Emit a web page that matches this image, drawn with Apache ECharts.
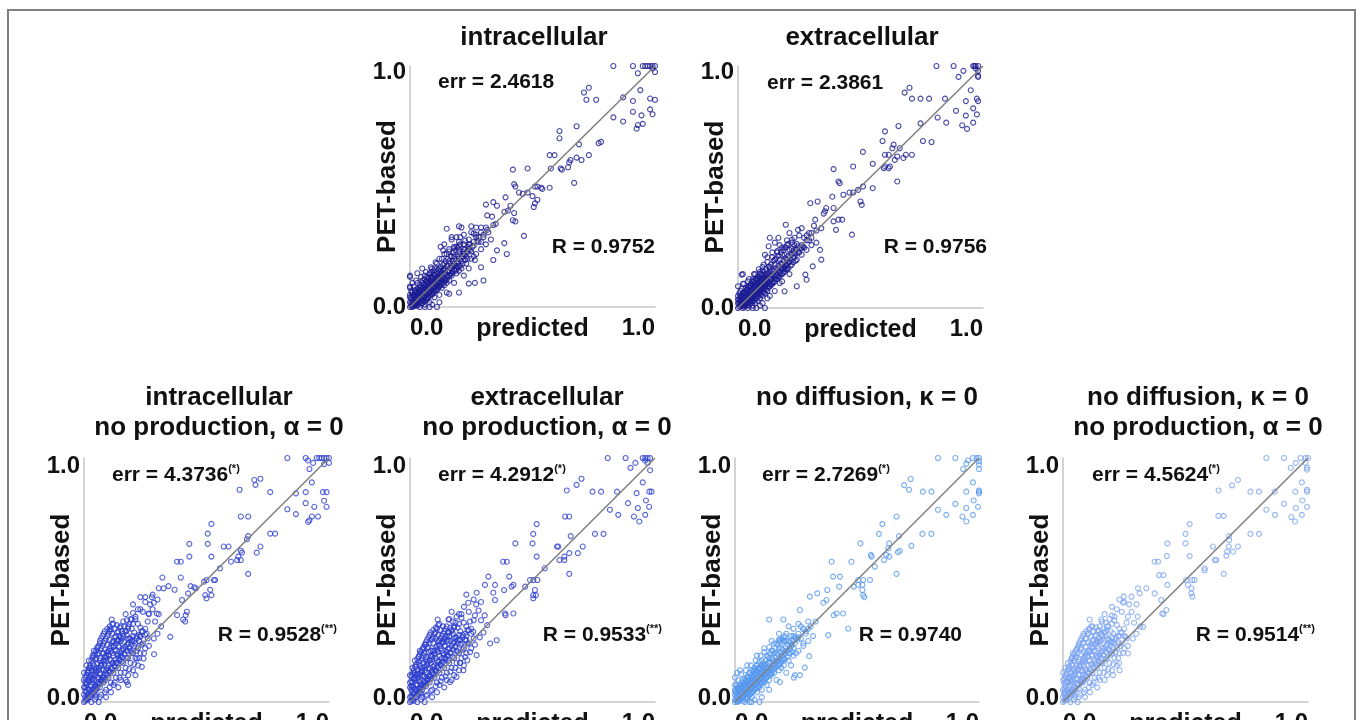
<!DOCTYPE html>
<html>
<head>
<meta charset="utf-8">
<script src="https://cdn.jsdelivr.net/npm/echarts@6/dist/echarts.min.js"></script>
<style>
  html, body { margin: 0; padding: 0; background: #fff; }
  #chart { width: 1360px; height: 720px; }
</style>
</head>
<body>
<div id="chart"></div>
<script>
// Panel titles and the statistics printed inside each panel
const TITLES = [
  'intracellular',
  'extracellular',
  'intracellular\nno production, α = 0',
  'extracellular\nno production, α = 0',
  'no diffusion, κ = 0',
  'no diffusion, κ = 0\nno production, α = 0'
];
const ERR_VALUES = ['2.4618', '2.3861', '4.3736', '4.2912', '2.7269', '4.5624'];
const ERR_MARKS = ['', '', '(*)', '(*)', '(*)', '(*)'];
const R_VALUES = ['0.9752', '0.9756', '0.9528', '0.9533', '0.9740', '0.9514'];
const R_MARKS = ['', '', '(**)', '(**)', '', '(**)'];
const X_NAME = 'predicted';
const Y_NAME = 'PET-based';
const AXIS_TICKS = [0, 1];

// Identity line
const DIAGONAL = [[0, 0], [1, 1]];

// [predicted, PET-based] pairs, normalised
const INTRA = [
  [.83,1],[.91,1],[.95,1],[.96,1],[.97,1],[.98,1],[.99,1],[1,1],[.93,.97],[1,.975],[.99,.99],
  [.73,.91],[.94,.9],[.71,.89],[.87,.87],[.72,.86],[.76,.86],[.98,.865],[1,.86],[.91,.855],
  [.98,.82],[.91,.81],[.99,.8],[.945,.795],[.83,.787],[.87,.77],[.95,.76],[.93,.755],[.925,.74],
  [.68,.75],[.61,.73],[.61,.7],[.78,.685],[.77,.68],[.69,.675],
  [.57,.63],[.59,.63],[.73,.63],[.68,.62],[.655,.61],[.7,.61],[.65,.6],[.645,.58],[.48,.575],[.575,.575],[.615,.575],[.42,.57],[.62,.57],
  [.67,.515],[.425,.51],[.43,.5],[.57,.495],[.535,.495],[.54,.49],[.51,.5],[.52,.5],[.48,.475],[.445,.475],[.46,.47],[.5,.46],[.39,.455],
  [.52,.445],[.34,.435],[.51,.43],[.31,.425],[.355,.42],[.41,.42],[.505,.415],[.4,.4],[.385,.395],[.425,.39],[.315,.38],[.335,.375],
  [.42,.36],[.43,.355],[.35,.345],[.2,.335],[.25,.335],[.29,.33],[.15,.325],[.315,.32],[.26,.305],[.465,.295],[.17,.29],[.205,.29],
  [.225,.275],[.275,.275],[.385,.265],[.125,.25],[.19,.25],[.355,.235],[.135,.235],[.395,.22],[.22,.22],[.265,.195],[.34,.195],
  [.29,.165],[0,.125],[.3,.11],[.265,.1],[.24,.097],[.2,.06],[.16,.055],[.11,0],[.08,0],[0,.085],
  [0,0],[.01,0],[.02,.01],[0,.02],[.01,.02],[.03,.01],[.02,.03],[.04,.02],[.03,.04],[.05,.03],[.04,.05],[.06,.04],[.05,.06],
  [.07,.05],[.06,.07],[.08,.06],[.07,.08],[.09,.07],[.08,.09],[.1,.08],[.09,.1],[.11,.09],[.1,.11],[.12,.1],[.11,.12],[.13,.11],
  [.12,.13],[.14,.12],[.13,.14],[.15,.13],[.14,.15],[.16,.15],[.15,.17],[.17,.16],[.18,.18],[.16,.19],[.19,.17],[.2,.2],[.18,.21],
  [.21,.19],[.22,.22],[.2,.23],[.23,.21],[.24,.24],[.22,.26],[.25,.23],[.26,.27],[.28,.27],[.27,.29],[.3,.29],[.29,.31],[.32,.31],
  [.31,.33],[.34,.34],
  [0,.05],[0,.08],[.01,.1],[0,.13],[.02,.07],[.03,.1],[.04,.08],[.05,.11],[.06,.13],[.07,.11],[.08,.14],[.09,.16],[.1,.15],[.11,.18],
  [.12,.16],[.13,.2],[.14,.18],[.15,.22],[.17,.21],[.18,.25],[.16,.24],[.2,.27],[.19,.29],[.22,.3],[.24,.28],[.21,.33],[.25,.31],
  [.27,.33],[.17,.28],[.14,.26],[.03,.14],[.05,.16],
  [.04,0],[.06,.01],[.08,.02],[.1,.04],[.12,.05],[.07,.03],[.09,.05],[.11,.07],[.13,.08],[.15,.1],[.14,.09],[.16,.11],[.17,.13],
  [.19,.14],[.21,.16],[.2,.15],[.23,.18],[.25,.2],[.27,.22],[.29,.24],[.26,.21],[.31,.26],[.33,.28],[.12,.02],[.06,0],[.09,.01],
  [.15,.06],[.18,.1],[.22,.13],[.24,.16]
];
const INTRA_DENSE = [
  [.005,.005],[.015,.005],[.005,.015],[.025,.015],[.015,.025],[.035,.025],[.025,.035],[.045,.035],[.035,.045],[.055,.045],
  [.045,.055],[.065,.055],[.055,.065],[.075,.065],[.065,.075],[.085,.075],[.075,.085],[.095,.085],[.085,.095],[.105,.095],
  [.095,.105],[.115,.105],[.105,.115],[.125,.115],[.115,.125],[.135,.125],[.125,.135],[.145,.14],[.135,.155],[.155,.145],
  [.165,.16],[.175,.17],[.185,.175],[.195,.185],[.205,.195],[.215,.21],[.225,.215],[.235,.23],[.245,.235],[.255,.25],
  [.015,.045],[.025,.06],[.035,.07],[.045,.085],[.055,.095],[.065,.105],[.075,.12],[.085,.125],[.095,.135],[.105,.14],
  [.115,.155],[.125,.165],[.135,.175],[.145,.19],[.155,.2],[.165,.21],[.175,.225],[.185,.235],[.195,.245],[.205,.26],
  [.045,.015],[.055,.025],[.065,.035],[.075,.04],[.085,.055],[.095,.06],[.105,.07],[.115,.08],[.125,.09],[.135,.1],
  [.145,.11],[.155,.125],[.165,.135],[.175,.145],[.185,.15],[.195,.165],[.205,.17],[.215,.18],[.225,.195],[.235,.2],
  [.005,.04],[.005,.065],[.015,.085],[.025,.11],[.045,.125],[.065,.145],[.085,.165],[.105,.185],[.12,.2],[.14,.22],
  [.16,.23],[.18,.245],[.2,.255],[.22,.24],[.24,.26],[.26,.255],[.28,.29],[.3,.3],[.27,.3],[.29,.27],
  [.01,.06],[.02,.05],[.03,.06],[.04,.07],[.05,.08],[.06,.09],[.07,.1],[.08,.11],[.09,.12],[.1,.13],[.02,.02],[.04,.04],
  [.06,.06],[.08,.08],[.1,.1],[.12,.12],[.14,.14],[.03,.02],[.05,.04],[.07,.06],[.09,.08],[.11,.1],[.13,.12]
];
const INTRA_CORE = [
  [.01,.005],[.02,.015],[.03,.015],[.04,.025],[.05,.035],[.06,.045],[.07,.055],[.08,.065],[.09,.075],[.1,.085],[.11,.095],
  [.12,.105],[.13,.115],[.005,.03],[.015,.04],[.025,.05],[.035,.06],[.045,.07],[.055,.08],[.065,.09],[.075,.1],[.085,.11],
  [.095,.12],[.105,.13],[.115,.14],[.125,.15],[0,.04],[.01,.05],[.02,.065],[.03,.075],[.04,.09],[.05,.1],[.06,.115],
  [.07,.125],[.08,.135],[.09,.145],[.1,.16],[.02,.005],[.03,.005],[.05,.015],[.06,.025],[.07,.035],[.08,.045],[.09,.055],
  [.1,.065],[.11,.075],[.12,.085],[.13,.095],[.14,.105],[.15,.115],[.16,.13],[.17,.14],[.18,.155],[.19,.16],[.2,.17],
  [.145,.16],[.155,.17],[.165,.18],[.175,.19],[.185,.2],[.195,.21],[.205,.22],[.215,.23],[.225,.24],[.235,.25],[.245,.26]
];

const EXTRA = [
  [.81,1],[.88,1],[.96,1],[.965,1],[.97,1],[.98,1],[.92,.98],[.98,.98],[.97,.99],[.9,.955],[.98,.955],[.98,.96],
  [.7,.91],[.68,.89],[.95,.9],[.71,.865],[.745,.865],[.78,.865],[.845,.865],[.975,.865],[.93,.855],[.98,.855],
  [.96,.825],[.89,.815],[.975,.8],[.93,.795],[.815,.787],[.85,.766],[.96,.766],[.745,.763],[.915,.755],[.935,.74],
  [.6,.73],[.655,.752],[.59,.69],[.755,.69],[.79,.686],[.635,.675],[.63,.66],[.66,.66],[.51,.645],
  [.6,.633],[.615,.633],[.685,.633],[.71,.633],[.675,.62],[.65,.626],[.64,.612],[.55,.596],[.47,.585],[.6,.585],[.62,.585],
  [.595,.578],[.615,.578],[.39,.574],[.65,.523],[.41,.523],[.415,.516],[.51,.502],[.55,.495],[.49,.488],[.455,.477],[.47,.477],
  [.43,.468],[.385,.46],[.5,.44],[.295,.433],[.325,.44],[.505,.426],[.36,.413],[.39,.413],[.355,.4],[.35,.39],[.315,.365],
  [.41,.365],[.425,.365],[.39,.358],[.195,.344],[.4,.323],[.245,.323],[.465,.303],[.13,.29],[.165,.29],[.22,.282],[.125,.255],
  [.265,.255],[.335,.24],[.23,.227],[.34,.2],[.305,.172],[.275,.138],[.015,.138],[.28,.117],[.17,.103],[.24,.09],[.19,.069],
  [.11,0],[.075,0],
  [0,0],[.01,.01],[0,.02],[.02,0],[.02,.02],[.03,.01],[.01,.03],[.03,.03],[.04,.02],[.02,.04],[.04,.04],[.05,.03],[.03,.05],
  [.05,.05],[.06,.04],[.04,.06],[.06,.06],[.07,.05],[.05,.07],[.07,.07],[.08,.06],[.06,.08],[.08,.08],[.09,.07],[.07,.09],
  [.09,.09],[.1,.08],[.08,.1],[.1,.1],[.11,.09],[.09,.11],[.11,.11],[.12,.1],[.1,.12],[.12,.12],[.13,.12],[.12,.14],[.14,.14],
  [.15,.13],[.13,.16],[.16,.16],[.17,.15],[.15,.18],[.18,.18],[.19,.17],[.17,.2],[.2,.2],[.21,.19],[.19,.22],[.22,.22],[.23,.21],
  [.21,.24],[.24,.24],[.25,.23],[.23,.26],[.26,.26],[.27,.25],[.28,.28],[.3,.29],[.29,.31],[.32,.32],[.31,.34],[.34,.33],
  [0,.05],[0,.09],[.01,.07],[.02,.1],[.03,.08],[.04,.11],[.05,.09],[.06,.12],[.07,.14],[.08,.12],[.09,.15],[.1,.17],[.11,.14],
  [.12,.19],[.13,.17],[.14,.21],[.15,.2],[.16,.23],[.18,.22],[.17,.26],[.19,.25],[.2,.28],[.22,.27],[.21,.31],[.23,.29],[.25,.3],
  [.26,.33],[.15,.27],[.02,.14],[.11,.22],
  [.04,0],[.06,.01],[.08,.03],[.07,.02],[.09,.04],[.1,.05],[.11,.06],[.12,.07],[.13,.09],[.14,.1],[.15,.11],[.16,.12],[.17,.13],
  [.18,.14],[.19,.15],[.2,.16],[.22,.18],[.24,.2],[.26,.22],[.28,.24],[.3,.26],[.32,.27],[.06,0],[.09,.01],[.12,.04],[.15,.07],
  [.18,.11],[.21,.14],[.1,.02],[.13,.05]
];
const EXTRA_DENSE = [
  [.005,.005],[.015,.01],[.005,.015],[.025,.015],[.015,.025],[.035,.02],[.025,.035],[.045,.03],[.035,.045],[.055,.04],
  [.045,.055],[.065,.05],[.055,.065],[.075,.06],[.065,.075],[.085,.07],[.075,.085],[.095,.08],[.085,.095],[.105,.09],
  [.095,.105],[.115,.1],[.105,.115],[.125,.11],[.115,.125],[.135,.12],[.125,.135],[.145,.135],[.135,.15],[.155,.14],
  [.165,.155],[.175,.165],[.185,.17],[.195,.18],[.205,.19],[.215,.2],[.225,.21],[.235,.225],[.245,.23],[.255,.245],
  [.015,.05],[.025,.065],[.035,.075],[.045,.09],[.055,.1],[.065,.11],[.075,.12],[.085,.13],[.095,.14],[.105,.15],
  [.115,.16],[.125,.17],[.135,.18],[.145,.195],[.155,.205],[.165,.215],[.175,.23],[.185,.24],[.195,.25],[.205,.265],
  [.045,.01],[.055,.02],[.065,.03],[.075,.04],[.085,.05],[.095,.055],[.105,.065],[.115,.075],[.125,.085],[.135,.095],
  [.145,.105],[.155,.12],[.165,.13],[.175,.14],[.185,.145],[.195,.16],[.205,.165],[.215,.175],[.225,.19],[.235,.195],
  [.005,.035],[.005,.06],[.015,.08],[.025,.1],[.045,.12],[.065,.14],[.085,.16],[.105,.18],[.12,.21],[.14,.23],
  [.16,.235],[.18,.25],[.2,.26],[.22,.245],[.24,.265],[.26,.25],[.28,.3],[.3,.31],[.27,.29],[.29,.28],
  [.01,.05],[.02,.06],[.03,.065],[.04,.075],[.05,.085],[.06,.095],[.07,.105],[.08,.115],[.09,.125],[.1,.135],[.015,.015],
  [.035,.035],[.055,.055],[.075,.075],[.095,.095],[.115,.115],[.135,.135],[.03,.02],[.05,.04],[.07,.06],[.09,.08],[.11,.1]
];
const EXTRA_CORE = [
  [.01,.01],[.02,.01],[.03,.02],[.04,.03],[.05,.04],[.06,.05],[.07,.06],[.08,.07],[.09,.08],[.1,.09],[.11,.1],
  [.12,.11],[.13,.12],[.005,.025],[.015,.035],[.025,.045],[.035,.055],[.045,.065],[.055,.075],[.065,.085],[.075,.095],
  [.085,.105],[.095,.115],[.105,.125],[.115,.135],[.125,.145],[0,.035],[.01,.045],[.02,.06],[.03,.07],[.04,.085],
  [.05,.095],[.06,.11],[.07,.12],[.08,.13],[.09,.14],[.1,.155],[.025,.005],[.035,.01],[.05,.02],[.06,.03],[.07,.04],
  [.08,.05],[.09,.06],[.1,.07],[.11,.08],[.12,.09],[.13,.1],[.14,.11],[.15,.12],[.16,.135],[.17,.145],[.18,.16],
  [.19,.165],[.2,.175],[.145,.155],[.155,.165],[.165,.175],[.175,.185],[.185,.195],[.195,.205],[.205,.215],[.215,.225],
  [.225,.235],[.235,.245],[.245,.255]
];

const INTRA_NOPROD = [
  [.83,1],[.905,1],[.95,1],[.96,1],[.97,1],[.98,1],[.99,1],[1,1],[.935,.98],[1,.98],[.914,.99],[.92,.955],[.98,.975],
  [.72,.915],[.695,.91],[.7,.89],[.635,.87],[.76,.86],[.905,.86],[.975,.86],[.99,.86],[.865,.855],[.93,.9],
  [.98,.825],[.905,.815],[.94,.8],[.99,.8],[.83,.79],[.865,.77],[.64,.76],[.67,.76],[.93,.76],[.955,.76],[.92,.745],[.915,.738],
  [.52,.73],[.505,.69],[.76,.69],[.78,.69],[.67,.68],[.665,.667],[.43,.648],[.505,.648],[.57,.637],[.59,.637],[.72,.637],
  [.645,.612],[.705,.612],[.64,.62],[.43,.596],[.52,.596],[.63,.596],[.38,.575],[.395,.575],[.6,.575],[.625,.582],[.64,.582],
  [.555,.548],[.67,.525],[.32,.51],[.395,.51],[.53,.5],[.535,.5],[.5,.5],[.49,.493],[.345,.475],[.435,.475],[.45,.47],
  [.305,.466],[.325,.466],[.457,.466],[.515,.46],[.37,.46],[.425,.445],[.52,.438],[.495,.438],[.25,.43],[.277,.43],[.5,.425],
  [.4,.418],[.285,.407],[.23,.38],[.42,.37],[.263,.363],[.297,.363],[.415,.356],[.38,.356],[.113,.338],[.195,.338],[.405,.338],
  [.413,.33],[.104,.297],[.256,.28],[.352,.267],[.23,.267],[.195,.253],[.286,.196],[.216,.178],[.243,.178],[.236,.144],
  [.21,.11],[.175,.082],[.18,.07],
  [0,0],[.01,.01],[0,.03],[.02,.02],[.01,.04],[.03,.03],[.02,.05],[.04,.04],[0,.06],[.03,.07],[.05,.05],[.01,.08],[.04,.09],
  [.06,.07],[.02,.1],[.05,.11],[.07,.09],[0,.12],[.03,.13],[.06,.13],[.08,.11],[.01,.15],[.04,.15],[.07,.15],[.09,.13],[.05,.18],
  [.08,.17],[.1,.15],[.02,.17],[.06,.2],[.09,.19],[.11,.17],[.07,.22],[.1,.21],[.12,.19],[.04,.21],[.08,.24],[.11,.23],[.13,.21],
  [.09,.26],[.12,.25],[.14,.23],[.1,.28],[.13,.27],[.15,.25],[.11,.3],[.14,.29],[.16,.27],[.12,.32],[.15,.31],[.17,.29],[.16,.33],
  [.18,.31],[.19,.34],[.2,.32],[.17,.36],[.21,.35],[.22,.38],[.2,.4],[.24,.37],[.25,.41],[.23,.43],[.27,.4],[.28,.44],
  [.08,.08],[.1,.1],[.12,.12],[.14,.14],[.16,.16],[.18,.18],[.2,.2],[.22,.22],[.24,.24],[.26,.26],[.11,.08],[.13,.1],[.15,.12],
  [.17,.14],[.19,.16],[.21,.18],[.23,.2],[.25,.22],[.09,.05],[.12,.07],[.15,.09],[.18,.11],[.05,.02],[.07,.03],[.03,0],[.06,0],
  [.09,.02],[.11,.04],[.14,.06],[.17,.09],[.2,.13],[.22,.15],[.19,.21],[.21,.24],[.23,.27],[.25,.3],[.18,.26],[.15,.19],[.13,.16],
  [.16,.22],[.14,.18],[0,.09],[.02,.13],[.05,.14],[.08,.2]
];
const INTRA_NOPROD_DENSE = [
  [.005,.005],[.015,.01],[.005,.02],[.015,.03],[.025,.02],[.005,.045],[.015,.055],[.025,.04],[.035,.05],[.045,.03],
  [.025,.065],[.035,.08],[.045,.065],[.055,.075],[.065,.06],[.015,.09],[.025,.105],[.035,.095],[.045,.12],[.055,.1],
  [.065,.115],[.075,.1],[.085,.09],[.015,.125],[.025,.14],[.035,.16],[.045,.135],[.055,.155],[.065,.17],[.075,.135],
  [.085,.155],[.095,.14],[.105,.125],[.035,.19],[.045,.175],[.055,.195],[.065,.18],[.075,.2],[.085,.185],[.095,.205],
  [.105,.175],[.115,.16],[.125,.145],[.055,.225],[.065,.24],[.075,.23],[.085,.215],[.095,.235],[.105,.22],[.115,.2],
  [.125,.215],[.135,.195],[.145,.175],[.155,.165],[.085,.25],[.095,.27],[.105,.255],[.115,.245],[.125,.265],[.135,.25],
  [.145,.225],[.155,.21],[.165,.195],[.175,.18],[.105,.29],[.115,.28],[.125,.3],[.135,.285],[.145,.27],[.155,.26],
  [.165,.245],[.175,.235],[.185,.22],[.195,.2],[.135,.315],[.145,.305],[.155,.29],[.165,.31],[.175,.275],[.185,.26],
  [.195,.25],[.205,.23],[.215,.21],[.175,.335],[.185,.32],[.195,.3],[.205,.285],[.215,.27],[.225,.25],[.235,.235],
  [.2,.365],[.21,.34],[.22,.32],[.23,.305],[.24,.29],[.25,.275],[.26,.33],[.265,.36],[.28,.38],[.3,.42],[.29,.33],
  [.305,.36],[.045,.01],[.065,.02],[.085,.04],[.105,.06],[.125,.08],[.145,.1],[.165,.12],[.185,.135],[.205,.155],
  [.225,.18],[.245,.2],[.265,.23],[.285,.26],[.3,.28],[.315,.31],[.01,.07],[.03,.11],[.05,.13],[.07,.16],[.09,.17],
  [.03,.09],[.06,.1],[.08,.13],[.1,.19],[.12,.23],[.14,.25]
];
const INTRA_NOPROD_CORE = [
  [.005,.06],[.005,.08],[.005,.1],[.01,.11],[.015,.12],[.02,.14],[.025,.15],[.03,.17],[.035,.18],[.04,.19],[.045,.2],
  [.05,.21],[.055,.22],[.06,.23],[.065,.25],[.07,.26],[.075,.27],[.08,.28],[.085,.29],[.095,.3],[.105,.31],[.115,.32],
  [.02,.085],[.03,.1],[.04,.11],[.05,.125],[.06,.14],[.07,.15],[.08,.165],[.09,.18],[.1,.195],[.11,.21],[.12,.225],
  [.13,.24],[.14,.255],[.15,.265],[.16,.28],[.17,.29],[.18,.3],[.035,.035],[.045,.05],[.055,.06],[.065,.075],[.075,.085],
  [.085,.1],[.095,.11],[.105,.12],[.115,.135],[.125,.15],[.135,.16],[.145,.17],[.155,.185],[.165,.2],[.175,.21],[.185,.225],
  [.195,.235],[.205,.25],[.215,.26],[.225,.275],[.235,.29],[.01,.015],[.02,.03],[.03,.045],[.04,.055],[.05,.065],[.06,.08],
  [.07,.09],[.08,.1],[.09,.115],[.1,.13],[.11,.14],[.12,.16],[.13,.175],[.14,.19],[.15,.2],[.16,.215],[.17,.225],[.18,.24],
  [.19,.26],[.2,.27]
];

const EXTRA_NOPROD = [
  [.807,1],[.88,1],[.95,1],[.96,1],[.97,1],[.98,1],[.92,.98],[.97,.98],[.9,.96],[.98,.95],[.96,.99],
  [.7,.915],[.68,.89],[.95,.9],[.64,.867],[.745,.862],[.78,.862],[.845,.862],[.977,.862],[.986,.862],[.925,.856],
  [.963,.826],[.89,.815],[.976,.8],[.93,.795],[.816,.788],[.85,.767],[.96,.767],[.633,.76],[.65,.76],[.914,.76],[.936,.74],
  [.517,.729],[.503,.689],[.755,.689],[.79,.689],[.656,.68],[.43,.65],[.5,.65],[.6,.637],[.605,.637],[.705,.637],[.685,.61],
  [.65,.61],[.517,.596],[.63,.596],[.61,.582],[.63,.582],[.38,.575],[.395,.575],[.55,.548],[.65,.525],[.32,.514],[.405,.514],
  [.49,.5],[.503,.5],[.52,.5],[.306,.48],[.347,.48],[.422,.48],[.415,.473],[.47,.473],[.384,.459],[.51,.459],[.272,.448],
  [.34,.448],[.503,.438],[.514,.438],[.503,.425],[.347,.418],[.238,.407],[.422,.363],[.388,.363],[.39,.356],[.113,.338],
  [.157,.338],[.245,.33],[.258,.288],[.204,.253],[.23,.253],[.354,.253],[.327,.24],[.272,.192],[.234,.171],[.204,.16],
  [.218,.13],[.19,.103],[.163,.082],
  [0,0],[.01,.01],[0,.02],[.02,.02],[.01,.04],[.03,.03],[.02,.05],[.04,.04],[0,.06],[.03,.07],[.05,.05],[.01,.08],[.04,.09],
  [.06,.07],[.02,.1],[.05,.11],[.07,.09],[0,.11],[.03,.13],[.06,.13],[.08,.11],[.01,.14],[.04,.15],[.07,.15],[.09,.13],[.05,.18],
  [.08,.17],[.1,.15],[.02,.17],[.06,.2],[.09,.19],[.11,.17],[.07,.22],[.1,.21],[.12,.19],[.04,.21],[.08,.24],[.11,.23],[.13,.21],
  [.09,.26],[.12,.25],[.14,.23],[.1,.28],[.13,.27],[.15,.25],[.11,.3],[.14,.29],[.16,.27],[.12,.32],[.15,.31],[.17,.29],[.16,.34],
  [.18,.31],[.19,.35],[.2,.32],[.17,.37],[.21,.36],[.22,.39],[.24,.37],[.26,.42],[.23,.44],[.27,.4],
  [.08,.08],[.1,.1],[.12,.12],[.14,.14],[.16,.16],[.18,.18],[.2,.2],[.22,.22],[.24,.24],[.26,.26],[.11,.08],[.13,.1],[.15,.12],
  [.17,.14],[.19,.16],[.21,.18],[.23,.2],[.25,.22],[.09,.05],[.12,.07],[.15,.09],[.18,.11],[.05,.02],[.07,.03],[.03,0],[.06,0],
  [.09,.02],[.11,.04],[.14,.06],[.17,.09],[.2,.13],[.22,.15],[.19,.21],[.21,.24],[.23,.27],[.25,.3],[.18,.26],[.15,.19],[.13,.16],
  [.16,.22],[.14,.18],[0,.08],[.02,.12],[.05,.14]
];
const EXTRA_NOPROD_DENSE = [
  [.005,.005],[.015,.005],[.005,.025],[.015,.035],[.025,.02],[.005,.05],[.015,.06],[.025,.045],[.035,.055],[.045,.035],
  [.025,.07],[.035,.085],[.045,.07],[.055,.08],[.065,.065],[.015,.095],[.025,.11],[.035,.1],[.045,.125],[.055,.105],
  [.065,.12],[.075,.105],[.085,.095],[.015,.12],[.025,.145],[.035,.165],[.045,.14],[.055,.16],[.065,.175],[.075,.14],
  [.085,.16],[.095,.145],[.105,.13],[.035,.185],[.045,.17],[.055,.19],[.065,.185],[.075,.205],[.085,.19],[.095,.21],
  [.105,.18],[.115,.165],[.125,.15],[.055,.22],[.065,.235],[.075,.225],[.085,.21],[.095,.24],[.105,.225],[.115,.205],
  [.125,.22],[.135,.2],[.145,.18],[.155,.17],[.085,.255],[.095,.265],[.105,.26],[.115,.25],[.125,.26],[.135,.245],
  [.145,.23],[.155,.215],[.165,.2],[.175,.185],[.105,.285],[.115,.275],[.125,.295],[.135,.28],[.145,.265],[.155,.255],
  [.165,.25],[.175,.24],[.185,.225],[.195,.205],[.135,.31],[.145,.3],[.155,.285],[.165,.305],[.175,.28],[.185,.265],
  [.195,.255],[.205,.235],[.215,.215],[.175,.33],[.185,.325],[.195,.305],[.205,.29],[.215,.275],[.225,.255],[.235,.24],
  [.2,.36],[.21,.345],[.22,.325],[.23,.31],[.24,.295],[.25,.28],[.26,.335],[.265,.355],[.28,.375],[.29,.41],[.29,.335],
  [.305,.355],[.045,.01],[.065,.025],[.085,.045],[.105,.065],[.125,.085],[.145,.105],[.165,.125],[.185,.14],[.205,.16],
  [.225,.185],[.245,.205],[.265,.235],[.285,.265],[.3,.285],[.315,.315],[.01,.065],[.03,.115],[.05,.125],[.07,.165],
  [.09,.175],[.03,.095],[.06,.105],[.08,.135],[.1,.195],[.12,.235],[.14,.255]
];
const EXTRA_NOPROD_CORE = [
  [.005,.065],[.005,.085],[.005,.105],[.01,.115],[.015,.13],[.02,.145],[.025,.155],[.03,.175],[.035,.185],[.04,.195],
  [.045,.205],[.05,.215],[.055,.225],[.06,.235],[.065,.245],[.07,.255],[.075,.265],[.08,.275],[.085,.285],[.095,.295],
  [.105,.305],[.115,.315],[.02,.09],[.03,.105],[.04,.115],[.05,.13],[.06,.145],[.07,.155],[.08,.17],[.09,.185],[.1,.2],
  [.11,.215],[.12,.23],[.13,.245],[.14,.26],[.15,.27],[.16,.285],[.17,.295],[.18,.305],[.035,.04],[.045,.055],[.055,.065],
  [.065,.08],[.075,.09],[.085,.105],[.095,.115],[.105,.125],[.115,.14],[.125,.155],[.135,.165],[.145,.175],[.155,.19],
  [.165,.205],[.175,.215],[.185,.23],[.195,.24],[.205,.255],[.215,.265],[.225,.28],[.235,.295],[.01,.02],[.02,.035],
  [.03,.05],[.04,.06],[.05,.07],[.06,.085],[.07,.095],[.08,.105],[.09,.12],[.1,.135],[.11,.145],[.12,.165],[.13,.18],
  [.14,.195],[.15,.205],[.16,.22],[.17,.23],[.18,.245],[.19,.265],[.2,.275]
];

const NODIFF = [
  [.832,1],[.903,1],[.975,1],[.99,1],[1,1],[1,.986],[.955,.99],[1,.973],[.935,.955],[1,.955],[.948,.977],
  [.72,.914],[.693,.889],[.713,.87],[.975,.9],[.77,.862],[.805,.862],[.948,.862],[1,.862],[1,.867],[1,.855],
  [.978,.826],[.903,.812],[.996,.8],[.948,.795],[.832,.788],[.866,.767],[.975,.767],[.662,.76],[.932,.76],[.948,.74],
  [.604,.729],[.59,.689],[.768,.689],[.805,.689],[.672,.68],[.514,.65],[.632,.65],[.723,.64],[.628,.63],[.675,.619],
  [.668,.614],[.557,.603],[.62,.603],[.56,.596],[.632,.596],[.611,.582],[.396,.575],[.477,.575],[.573,.555],[.662,.525],
  [.402,.514],[.43,.514],[.505,.5],[.525,.5],[.553,.5],[.505,.48],[.522,.48],[.427,.473],[.487,.473],[.378,.459],[.522,.459],
  [.337,.445],[.525,.438],[.53,.43],[.307,.432],[.375,.418],[.362,.407],[.266,.377],[.443,.363],[.416,.363],[.405,.356],
  [.14,.338],[.198,.338],[.464,.301],[.382,.274],[.184,.253],[.28,.24],[.304,.188],[.286,.141],[.266,.11],[.246,.11],
  [.241,.1],[.184,.082],[.068,0],[.1,0],
  [0,0],[.01,0],[0,.01],[.02,.01],[.01,.02],[0,.03],[.03,.02],[.02,.03],[.04,.03],[.03,.04],[.05,.04],[.04,.05],[.06,.05],
  [.05,.06],[.07,.06],[.06,.07],[.08,.07],[.07,.08],[.09,.08],[.08,.09],[.1,.09],[.09,.1],[.11,.1],[.1,.11],[.12,.11],[.11,.12],
  [.13,.12],[.12,.13],[.14,.13],[.13,.14],[.15,.14],[.14,.16],[.16,.15],[.17,.17],[.15,.18],[.18,.16],[.19,.19],[.17,.2],[.2,.18],
  [.21,.21],[.19,.22],[.22,.2],[.23,.23],[.21,.25],[.24,.22],[.25,.26],[.27,.26],[.26,.28],[.29,.28],[.28,.3],[.31,.31],[.3,.33],
  [.33,.33],
  [0,.05],[0,.07],[0,.1],[.01,.12],[.02,.06],[.03,.09],[.04,.07],[.05,.1],[.06,.12],[.07,.1],[.08,.13],[.09,.15],[.1,.14],
  [.11,.17],[.12,.15],[.13,.19],[.14,.18],[.15,.21],[.16,.2],[.17,.24],[.18,.22],[.19,.26],[.2,.25],[.21,.28],[.23,.27],[.22,.31],
  [.24,.3],[.26,.32],[.18,.28],[.15,.25],[.02,.13],[.05,.15],[.09,.19],[.12,.22],
  [.04,0],[.05,.01],[.07,.02],[.09,.04],[.11,.05],[.06,.03],[.08,.05],[.1,.06],[.12,.08],[.14,.09],[.13,.07],[.15,.11],[.16,.12],
  [.18,.13],[.2,.15],[.19,.14],[.22,.17],[.24,.19],[.26,.21],[.28,.23],[.25,.2],[.3,.25],[.32,.27],[.11,.02],[.06,0],[.08,.01],
  [.14,.05],[.17,.09],[.21,.12],[.23,.15]
];
const NODIFF_DENSE = [
  [.005,.005],[.015,.005],[.005,.02],[.025,.015],[.015,.03],[.035,.025],[.025,.04],[.045,.035],[.035,.05],[.055,.045],
  [.045,.06],[.065,.055],[.055,.07],[.075,.065],[.065,.08],[.085,.075],[.075,.09],[.095,.085],[.085,.1],[.105,.095],
  [.095,.11],[.115,.105],[.105,.12],[.125,.115],[.115,.13],[.135,.125],[.125,.14],[.145,.14],[.135,.16],[.155,.15],
  [.165,.165],[.175,.17],[.185,.18],[.195,.19],[.205,.2],[.215,.21],[.225,.22],[.235,.235],[.245,.24],[.255,.255],
  [.015,.05],[.025,.065],[.035,.075],[.045,.09],[.055,.1],[.065,.11],[.075,.125],[.085,.13],[.095,.14],[.105,.15],
  [.115,.16],[.125,.17],[.135,.185],[.145,.2],[.155,.21],[.165,.22],[.175,.235],[.185,.245],[.195,.255],[.205,.27],
  [.045,.015],[.055,.025],[.065,.035],[.075,.045],[.085,.055],[.095,.065],[.105,.075],[.115,.085],[.125,.095],[.135,.105],
  [.145,.115],[.155,.13],[.165,.14],[.175,.15],[.185,.155],[.195,.17],[.205,.175],[.215,.185],[.225,.2],[.235,.205],
  [.005,.045],[.005,.07],[.015,.09],[.025,.115],[.045,.13],[.065,.15],[.085,.17],[.105,.19],[.12,.205],[.14,.225],
  [.16,.24],[.18,.255],[.2,.265],[.22,.25],[.24,.27],[.26,.265],[.28,.3],[.3,.3],[.27,.31],[.29,.29],
  [.01,.06],[.02,.05],[.03,.065],[.04,.075],[.05,.085],[.06,.095],[.07,.105],[.08,.115],[.09,.125],[.1,.135],[.02,.02],
  [.04,.04],[.06,.06],[.08,.08],[.1,.1],[.12,.12],[.14,.14],[.03,.015],[.05,.035],[.07,.055],[.09,.075],[.11,.095]
];
const NODIFF_CORE = [
  [.01,.005],[.02,.01],[.03,.02],[.04,.03],[.05,.04],[.06,.05],[.07,.06],[.08,.07],[.09,.08],[.1,.09],[.11,.1],
  [.12,.11],[.13,.12],[.005,.035],[.015,.045],[.025,.055],[.035,.065],[.045,.075],[.055,.085],[.065,.095],[.075,.105],
  [.085,.115],[.095,.125],[.105,.135],[.115,.145],[.125,.155],[0,.045],[.01,.055],[.02,.07],[.03,.08],[.04,.095],
  [.05,.105],[.06,.12],[.07,.13],[.08,.14],[.09,.15],[.1,.165],[.02,.005],[.035,.005],[.05,.02],[.06,.03],[.07,.04],
  [.08,.05],[.09,.06],[.1,.07],[.11,.08],[.12,.09],[.13,.1],[.14,.11],[.15,.12],[.16,.135],[.17,.145],[.18,.155],
  [.19,.165],[.2,.175],[.145,.165],[.155,.175],[.165,.185],[.175,.195],[.185,.205],[.195,.215],[.205,.225],[.215,.235],
  [.225,.245],[.235,.255],[.245,.265]
];

const NODIFF_NOPROD = [
  [.83,1],[.902,1],[.97,1],[.99,1],[1,1],[.95,.98],[.99,.98],[.93,.96],[.996,.96],[.996,.952],
  [.714,.91],[.69,.888],[.635,.867],[.765,.862],[.8,.862],[.864,.862],[.948,.862],[.996,.862],[.996,.87],[.975,.9],
  [.977,.826],[.902,.812],[.996,.8],[.95,.795],[.83,.788],[.865,.767],[.975,.767],[.634,.763],[.656,.763],[.932,.758],[.947,.74],
  [.517,.729],[.5,.689],[.765,.689],[.8,.689],[.678,.68],[.678,.664],[.426,.65],[.5,.65],[.612,.637],[.677,.637],[.714,.637],
  [.67,.616],[.694,.616],[.517,.598],[.424,.598],[.667,.6],[.626,.582],[.62,.582],[.374,.575],[.388,.575],[.578,.548],
  [.578,.54],[.656,.525],[.392,.52],[.41,.52],[.503,.5],[.528,.5],[.537,.5],[.426,.48],[.51,.48],[.306,.466],[.34,.466],
  [.524,.466],[.313,.445],[.374,.445],[.524,.445],[.248,.432],[.28,.432],[.528,.432],[.401,.418],[.245,.407],[.422,.377],
  [.405,.363],[.41,.36],[.109,.338],[.156,.338],[.327,.308],[.256,.267],[.197,.247],[.265,.199],[.229,.158],[.231,.13],[.204,.11],
  [0,0],[.01,.01],[0,.02],[.02,.02],[.01,.04],[.03,.03],[.02,.05],[.04,.04],[0,.05],[.03,.07],[.05,.05],[.01,.08],[.04,.09],
  [.06,.07],[.02,.1],[.05,.11],[.07,.09],[0,.12],[.03,.12],[.06,.13],[.08,.11],[.01,.14],[.04,.15],[.07,.15],[.09,.13],[.05,.18],
  [.08,.17],[.1,.15],[.02,.16],[.06,.2],[.09,.19],[.11,.17],[.07,.22],[.1,.21],[.12,.19],[.04,.2],[.08,.24],[.11,.23],[.13,.21],
  [.09,.26],[.12,.25],[.14,.23],[.1,.28],[.13,.27],[.15,.25],[.11,.3],[.14,.29],[.16,.27],[.12,.31],[.15,.31],[.17,.29],[.16,.33],
  [.18,.31],[.19,.34],[.2,.32],[.17,.36],[.21,.35],[.22,.38],[.2,.39],[.24,.37],[.25,.41],[.23,.42],[.27,.4],
  [.08,.08],[.1,.1],[.12,.12],[.14,.14],[.16,.16],[.18,.18],[.2,.2],[.22,.22],[.24,.24],[.26,.26],[.11,.08],[.13,.1],[.15,.12],
  [.17,.14],[.19,.16],[.21,.18],[.23,.2],[.25,.22],[.09,.05],[.12,.07],[.15,.09],[.18,.11],[.05,.02],[.07,.03],[.03,0],[.06,0],
  [.09,.02],[.11,.04],[.14,.06],[.17,.09],[.2,.13],[.22,.15],[.19,.21],[.21,.24],[.23,.27],[.25,.3],[.18,.26],[.15,.19],[.13,.16],
  [.16,.22],[.14,.18],[0,.09],[.02,.13],[.05,.14]
];
const NODIFF_NOPROD_DENSE = [
  [.005,.005],[.015,.01],[.005,.03],[.015,.025],[.025,.015],[.005,.04],[.015,.05],[.025,.04],[.035,.05],[.045,.03],
  [.025,.06],[.035,.08],[.045,.06],[.055,.075],[.065,.055],[.015,.085],[.025,.1],[.035,.09],[.045,.115],[.055,.095],
  [.065,.11],[.075,.095],[.085,.085],[.015,.115],[.025,.135],[.035,.155],[.045,.13],[.055,.15],[.065,.165],[.075,.13],
  [.085,.15],[.095,.135],[.105,.12],[.035,.18],[.045,.17],[.055,.185],[.065,.175],[.075,.195],[.085,.18],[.095,.2],
  [.105,.17],[.115,.155],[.125,.14],[.055,.215],[.065,.23],[.075,.22],[.085,.205],[.095,.225],[.105,.21],[.115,.195],
  [.125,.21],[.135,.19],[.145,.17],[.155,.16],[.085,.245],[.095,.26],[.105,.245],[.115,.24],[.125,.255],[.135,.24],
  [.145,.22],[.155,.205],[.165,.19],[.175,.175],[.105,.28],[.115,.27],[.125,.29],[.135,.275],[.145,.26],[.155,.25],
  [.165,.24],[.175,.23],[.185,.215],[.195,.195],[.135,.305],[.145,.295],[.155,.28],[.165,.3],[.175,.27],[.185,.255],
  [.195,.245],[.205,.225],[.215,.205],[.175,.325],[.185,.31],[.195,.29],[.205,.28],[.215,.265],[.225,.245],[.235,.23],
  [.2,.355],[.21,.335],[.22,.315],[.23,.3],[.24,.285],[.25,.27],[.26,.325],[.265,.35],[.28,.37],[.3,.4],[.29,.325],
  [.305,.35],[.045,.01],[.065,.02],[.085,.04],[.105,.06],[.125,.08],[.145,.1],[.165,.12],[.185,.135],[.205,.155],
  [.225,.18],[.245,.2],[.265,.23],[.285,.26],[.3,.28],[.315,.31],[.01,.065],[.03,.105],[.05,.125],[.07,.155],[.09,.165],
  [.03,.085],[.06,.095],[.08,.125],[.1,.185],[.12,.225],[.14,.245]
];
const NODIFF_NOPROD_CORE = [
  [.005,.055],[.005,.075],[.005,.095],[.01,.105],[.015,.115],[.02,.135],[.025,.145],[.03,.165],[.035,.175],[.04,.185],
  [.045,.195],[.05,.205],[.055,.215],[.06,.225],[.065,.24],[.07,.25],[.075,.26],[.08,.27],[.085,.28],[.095,.29],[.105,.3],
  [.115,.31],[.02,.08],[.03,.095],[.04,.105],[.05,.12],[.06,.135],[.07,.145],[.08,.16],[.09,.175],[.1,.19],[.11,.205],
  [.12,.22],[.13,.235],[.14,.25],[.15,.26],[.16,.275],[.17,.285],[.18,.295],[.035,.03],[.045,.045],[.055,.055],[.065,.07],
  [.075,.08],[.085,.095],[.095,.105],[.105,.115],[.115,.13],[.125,.145],[.135,.155],[.145,.165],[.155,.18],[.165,.195],
  [.175,.205],[.185,.22],[.195,.23],[.205,.245],[.215,.255],[.225,.27],[.235,.285],[.01,.02],[.02,.035],[.03,.04],[.04,.05],
  [.05,.06],[.06,.075],[.07,.085],[.08,.095],[.09,.11],[.1,.125],[.11,.135],[.12,.155],[.13,.17],[.14,.185],[.15,.195],
  [.16,.21],[.17,.22],[.18,.235],[.19,.255],[.2,.265]
];

const PANEL_DATA = [
  INTRA.concat(INTRA_DENSE, INTRA_CORE),
  EXTRA.concat(EXTRA_DENSE, EXTRA_CORE),
  INTRA_NOPROD.concat(INTRA_NOPROD_DENSE, INTRA_NOPROD_CORE),
  EXTRA_NOPROD.concat(EXTRA_NOPROD_DENSE, EXTRA_NOPROD_CORE),
  NODIFF.concat(NODIFF_DENSE, NODIFF_CORE),
  NODIFF_NOPROD.concat(NODIFF_NOPROD_DENSE, NODIFF_NOPROD_CORE)
];
const PANEL_COLORS = ['#1b1b93', '#1b1b93', '#2d3ecd', '#2d3ecd', '#5898ef', '#7da4f1'];

// Layout of the six panels (pixel boxes of the plotting areas)
const BOXES = [
  { l: 410, t: 66, w: 245, h: 241 },
  { l: 738, t: 66, w: 245, h: 242 },
  { l: 84, t: 458, w: 245, h: 244 },
  { l: 410, t: 458, w: 245, h: 244 },
  { l: 735, t: 458, w: 244, h: 244 },
  { l: 1063, t: 458, w: 245, h: 244 }
];
const TITLE_POS = [[534, 38], [862, 38], [219, 413], [547, 413], [867, 398], [1198, 413]];
const ERR_POS = [[438, 82], [767, 83], [112, 475], [438, 475], [762, 475], [1092, 475]];
const R_POS = [[655, 247], [987, 247], [337, 635], [662, 635], [962, 635], [1315, 635]];

const FONT = '"Liberation Sans", Arial, Helvetica, sans-serif';
const INK = '#111111';

const chart = echarts.init(document.getElementById('chart'), null, { renderer: 'canvas' });

const grid = [], xAxis = [], yAxis = [], series = [], graphic = [];

BOXES.forEach((b, i) => {
  const bottomRow = i >= 2;
  grid.push({
    left: b.l, top: b.t, width: b.w, height: b.h,
    containLabel: false, outerBoundsMode: 'none'
  });
  const labelFont = { fontFamily: FONT, fontWeight: 'bold', fontSize: 24, color: INK };
  xAxis.push({
    gridIndex: i, type: 'value', min: AXIS_TICKS[0], max: AXIS_TICKS[1], interval: 1,
    axisLine: { show: true, onZero: false, lineStyle: { color: '#c6c6c6', width: 1.5 } },
    axisTick: { show: false }, splitLine: { show: false },
    axisLabel: Object.assign({
      margin: 9, formatter: v => v.toFixed(1),
      alignMinLabel: 'left', alignMaxLabel: 'right'
    }, labelFont),
    name: X_NAME, nameLocation: 'middle', nameGap: 10, nameMoveOverlap: false,
    nameTextStyle: { fontFamily: FONT, fontWeight: 'bold', fontSize: 25, color: INK, verticalAlign: 'top' }
  });
  yAxis.push({
    gridIndex: i, type: 'value', min: AXIS_TICKS[0], max: AXIS_TICKS[1], interval: 1,
    axisLine: { show: true, onZero: false, lineStyle: { color: '#c6c6c6', width: 1.5 } },
    axisTick: { show: false }, splitLine: { show: false },
    axisLabel: Object.assign({
      margin: 4,
      formatter: v => (v === 1 ? '{hi|1.0}' : '{lo|0.0}'),
      rich: {
        hi: Object.assign({ padding: [bottomRow ? 16 : 13, 0, 0, 0] }, labelFont),
        lo: Object.assign({ padding: [0, 0, bottomRow ? 8 : 0, 0] }, labelFont)
      }
    }, labelFont),
    name: Y_NAME, nameLocation: 'middle', nameGap: 9, nameRotate: 90, nameMoveOverlap: false,
    nameTextStyle: { fontFamily: FONT, fontWeight: 'bold', fontSize: 26, color: INK }
  });
  series.push({
    type: 'scatter', xAxisIndex: i, yAxisIndex: i, data: PANEL_DATA[i],
    symbol: 'circle', symbolSize: 5, silent: true, z: 2, large: false,
    itemStyle: { color: 'rgba(0,0,0,0)', borderColor: PANEL_COLORS[i], borderWidth: 1.1 }
  });
  series.push({
    type: 'line', xAxisIndex: i, yAxisIndex: i, data: DIAGONAL,
    symbol: 'none', silent: true, z: 3,
    lineStyle: { color: '#7f7f7f', width: 1.5 }
  });

  // panel heading
  graphic.push({
    type: 'text', x: TITLE_POS[i][0], y: TITLE_POS[i][1], z: 10,
    style: {
      text: TITLES[i], font: 'bold 26px ' + FONT, fill: INK, lineHeight: 30,
      align: 'center', verticalAlign: 'middle', textAlign: 'center', textVerticalAlign: 'middle'
    }
  });
  // error and correlation annotations, with significance marks as superscripts
  const mainTok = { font: 'bold 21px ' + FONT, fill: INK, lineHeight: 24 };
  const supTok = { font: 'bold 11px ' + FONT, fill: INK, verticalAlign: 'top', lineHeight: 24 };
  graphic.push({
    type: 'text', x: ERR_POS[i][0], y: ERR_POS[i][1], z: 10,
    style: {
      text: '{m|err = ' + ERR_VALUES[i] + '}' + (ERR_MARKS[i] ? '{s|' + ERR_MARKS[i] + '}' : ''),
      rich: { m: mainTok, s: supTok },
      align: 'left', verticalAlign: 'middle', textAlign: 'left', textVerticalAlign: 'middle'
    }
  });
  graphic.push({
    type: 'text', x: R_POS[i][0], y: R_POS[i][1], z: 10,
    style: {
      text: '{m|R = ' + R_VALUES[i] + '}' + (R_MARKS[i] ? '{s|' + R_MARKS[i] + '}' : ''),
      rich: { m: mainTok, s: supTok },
      align: 'right', verticalAlign: 'middle', textAlign: 'right', textVerticalAlign: 'middle'
    }
  });
});

// outer frame of the figure
graphic.push({
  type: 'rect', z: 0, silent: true,
  shape: { x: 8, y: 10, width: 1347, height: 760 },
  style: { fill: 'none', stroke: '#808080', lineWidth: 2 }
});

chart.setOption({
  animation: false,
  backgroundColor: '#ffffff',
  grid, xAxis, yAxis, series, graphic
});
</script>
</body>
</html>
